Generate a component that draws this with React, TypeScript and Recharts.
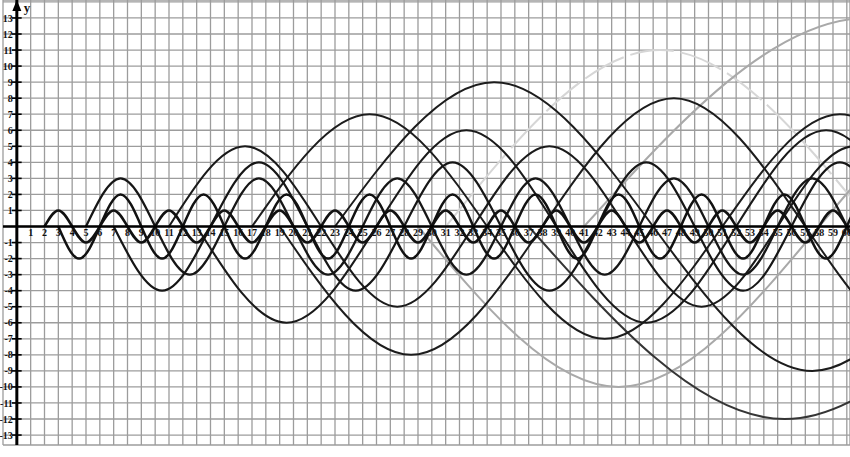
import React from "react";
import {
  LineChart,
  Line,
  XAxis,
  YAxis,
  CartesianGrid,
  ReferenceLine,
  ReferenceDot,
} from "recharts";

// grid ticks (one line per unit) and axis labels
const xTicks = [
  -1, 0, 1, 2, 3, 4, 5, 6, 7, 8, 9, 10, 11, 12, 13, 14, 15, 16, 17, 18, 19, 20,
  21, 22, 23, 24, 25, 26, 27, 28, 29, 30, 31, 32, 33, 34, 35, 36, 37, 38, 39, 40,
  41, 42, 43, 44, 45, 46, 47, 48, 49, 50, 51, 52, 53, 54, 55, 56, 57, 58, 59, 60,
];
const yTicks = [
  -13, -12, -11, -10, -9, -8, -7, -6, -5, -4, -3, -2, -1, 0, 1, 2, 3, 4, 5, 6, 7,
  8, 9, 10, 11, 12, 13, 14,
];
const xLabels = xTicks.filter((v) => v > 0);
const yLabels = yTicks.filter((v) => v !== 0 && v < 14);

// each wave: first zero, spacing between zero / peak points, values read at those points
const wave2 = [
  0, 1, 0, -1, 0, 1, 0, -1, 0, 1, 0, -1, 0, 1, 0, -1, 0, 1, 0, -1, 0, 1, 0, -1,
  0, 1, 0, -1, 0, 1, 0, -1, 0, 1, 0, -1, 0, 1, 0, -1, 0, 1, 0, -1, 0, 1, 0, -1,
  0, 1, 0, -1, 0, 1, 0, -1, 0, 1, 0, -1, 0,
];
const wave3 = [
  0, -2, 0, 2, 0, -2, 0, 2, 0, -2, 0, 2, 0, -2, 0, 2, 0, -2, 0, 2, 0, -2, 0, 2,
  0, -2, 0, 2, 0, -2, 0, 2, 0, -2, 0, 2, 0, -2, 0, 2, 0,
];
const wave5 = [0, 3, 0, -3, 0, 3, 0, -3, 0, 3, 0, -3, 0, 3, 0, -3, 0, 3, 0, -3, 0, 3, 0, -3, 0];
const wave7 = [0, -4, 0, 4, 0, -4, 0, 4, 0, -4, 0, 4, 0, -4, 0, 4, 0];
const wave11 = [0, 5, 0, -5, 0, 5, 0, -5, 0, 5, 0];
const wave13 = [0, -6, 0, 6, 0, -6, 0, 6, 0];
const wave17 = [0, 7, 0, -7, 0, 7, 0];
const wave19 = [0, -8, 0, 8, 0, -8, 0];
const wave23 = [0, 9, 0, -9, 0];
const wave29 = [0, -10, 0, 10, 0];
const wave31 = [0, 11, 0];
const wave37 = [0, -12, 0];
const wave41 = [0, 13, 0];

const toPoints = (start: number, step: number, ys: number[]) =>
  ys.map((y, i) => ({ x: start + i * step, y }));

const waves = [
  { id: "w31", pts: toPoints(31, 15.5, wave31), color: "#d6d6d6", w: 2, dash: "44 7" },
  { id: "w29", pts: toPoints(29, 14.5, wave29), color: "#a9a9a9", w: 2 },
  { id: "w41", pts: toPoints(41, 20.5, wave41), color: "#a9a9a9", w: 2 },
  { id: "w37", pts: toPoints(37, 18.5, wave37), color: "#353535", w: 2 },
  { id: "w23", pts: toPoints(23, 11.5, wave23), color: "#1c1c1c", w: 2 },
  { id: "w19", pts: toPoints(19, 9.5, wave19), color: "#1c1c1c", w: 2 },
  { id: "w17", pts: toPoints(17, 8.5, wave17), color: "#1c1c1c", w: 2 },
  { id: "w13", pts: toPoints(13, 6.5, wave13), color: "#1a1a1a", w: 2.1 },
  { id: "w11", pts: toPoints(11, 5.5, wave11), color: "#1a1a1a", w: 2.1 },
  { id: "w7", pts: toPoints(7, 3.5, wave7), color: "#161616", w: 2.2 },
  { id: "w5", pts: toPoints(5, 2.5, wave5), color: "#161616", w: 2.3 },
  { id: "w3", pts: toPoints(3, 1.5, wave3), color: "#111", w: 2.5 },
  { id: "w2", pts: toPoints(2, 1, wave2), color: "#111", w: 2.6 },
];

const labelFont = {
  fontFamily: "'Liberation Serif', serif",
  fontWeight: "bold",
  fill: "#111",
};

const Arrow = (props: any) => {
  const { cx, cy } = props;
  return (
    <path
      d={`M${cx - 4.5},${cy + 9} L${cx},${cy - 2} L${cx + 4.5},${cy + 9} Z`}
      fill="#000"
    />
  );
};

// axis ticks stay invisible; the grid still needs them to exist
const NoTick = () => <g />;

export default function App() {
  return (
    <div style={{ position: "absolute", left: 0, top: 0, background: "#fff" }}>
      <LineChart width={850} height={457} margin={{ top: 0, right: 0, bottom: 12, left: 3 }}>
        <CartesianGrid stroke="#9c9c9c" strokeWidth={1.3} />
        <XAxis
          dataKey="x"
          type="number"
          domain={[-1, 60.23]}
          ticks={xTicks}
          interval={0}
          allowDataOverflow
          height={0}
          tick={NoTick}
          tickLine={false}
          axisLine={false}
        />
        <YAxis
          type="number"
          domain={[-13.62, 14.12]}
          ticks={yTicks}
          interval={0}
          allowDataOverflow
          width={0}
          tick={NoTick}
          tickLine={false}
          axisLine={false}
        />

        {waves.map((w) => (
          <Line
            key={w.id}
            data={w.pts}
            dataKey="y"
            type="natural"
            stroke={w.color}
            strokeWidth={w.w}
            strokeDasharray={w.dash}
            dot={false}
            activeDot={false}
            isAnimationActive={false}
          />
        ))}

        <ReferenceLine y={0} stroke="#000" strokeWidth={2.6} />
        <ReferenceLine x={0} stroke="#000" strokeWidth={3} />
        {yLabels.map((v) => (
          <ReferenceLine
            key={`yt${v}`}
            segment={[
              { x: -0.35, y: v },
              { x: 0.35, y: v },
            ]}
            stroke="#000"
            strokeWidth={1.6}
          />
        ))}

        {xLabels.map((v) => (
          <ReferenceDot
            key={`xl${v}`}
            x={v}
            y={0}
            r={0}
            fill="none"
            stroke="none"
            label={{ value: String(v), position: "bottom", offset: 2, fontSize: 10, ...labelFont }}
          />
        ))}
        {yLabels.map((v) => (
          <ReferenceDot
            key={`yl${v}`}
            x={0}
            y={v}
            r={0}
            fill="none"
            stroke="none"
            label={{ value: String(v), position: "left", offset: 4, fontSize: 10, ...labelFont }}
          />
        ))}
        <ReferenceDot
          x={0}
          y={14}
          r={0}
          shape={<Arrow />}
          label={{ value: "y", position: "right", offset: 7, dy: 5, fontSize: 13, ...labelFont }}
        />
      </LineChart>
    </div>
  );
}
